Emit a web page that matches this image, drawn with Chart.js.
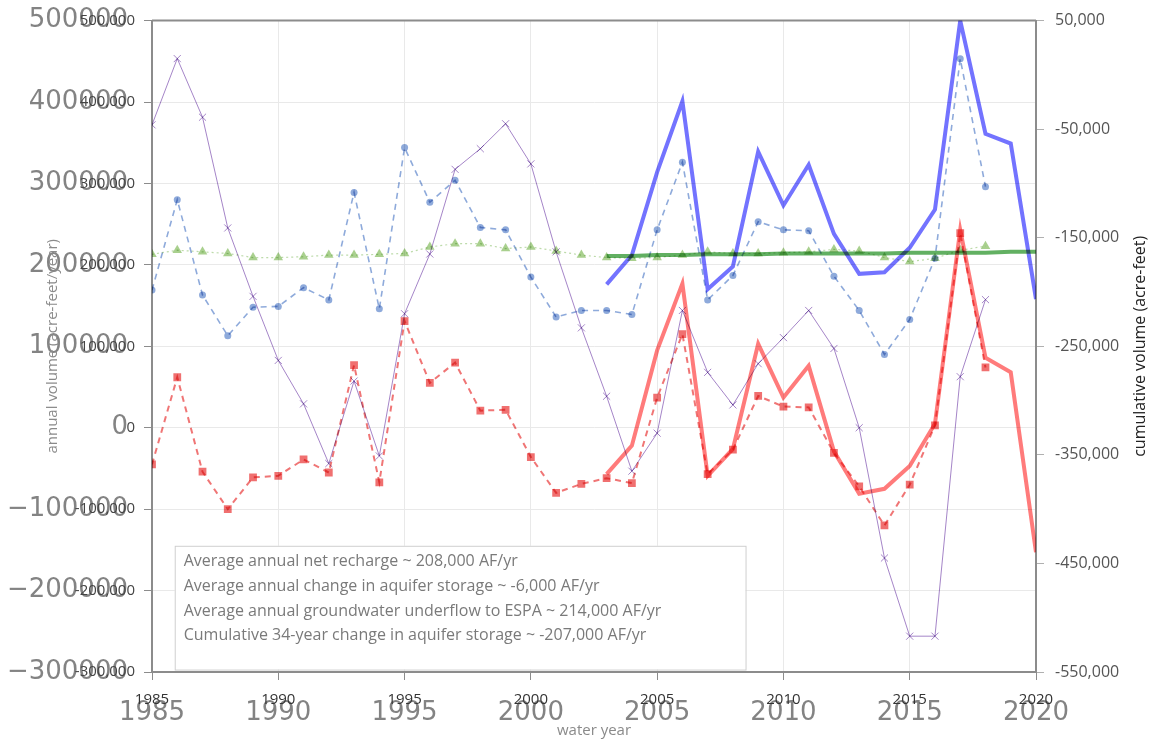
<!DOCTYPE html>
<html>
<head>
<meta charset="utf-8">
<script src="https://cdn.jsdelivr.net/npm/chart.js@4.4.1/dist/chart.umd.min.js"></script>
<style>
  html, body { margin: 0; padding: 0; background: #fff; }
</style>
</head>
<body>
<canvas id="chart" width="1151" height="741"></canvas>
<script>
// water years with annual budget values
const annualYears = [1985, 1986, 1987, 1988, 1989, 1990, 1991, 1992, 1993, 1994,
    1995, 1996, 1997, 1998, 1999, 2000, 2001, 2002, 2003, 2004,
    2005, 2006, 2007, 2008, 2009, 2010, 2011, 2012, 2013, 2014,
    2015, 2016, 2017, 2018];
const netRecharge = [169000, 280000, 163000, 113000, 148000, 149000, 172000, 157000, 289000, 146000,
    344000, 277000, 304000, 246000, 243000, 185000, 136000, 144000, 144000, 139000,
    243000, 326000, 157000, 187000, 253000, 243000, 242000, 186000, 144000, 90000,
    133000, 208000, 453000, 296000];
const underflow = [213000, 218000, 216000, 214000, 209000, 209000, 210000, 212000, 212000, 213000,
    214000, 222000, 226000, 226000, 220000, 222000, 217000, 212000, 209000, 208000,
    209000, 212000, 216000, 214000, 214000, 215000, 216000, 219000, 217000, 209000,
    204000, 208000, 218000, 223000];
const storageChange = [-45000, 62000, -54000, -100000, -61000, -59000, -39000, -55000, 77000, -67000,
    131000, 55000, 80000, 21000, 22000, -36000, -80000, -69000, -62000, -68000,
    37000, 115000, -57000, -27000, 39000, 26000, 25000, -31000, -72000, -120000,
    -70000, 3000, 239000, 74000];
// cumulative storage change, read against the right axis
const cumulativeStorage = [-46000, 15000, -39000, -141000, -204000, -263000, -303000, -358000, -282000, -351000,
    -220000, -165000, -87000, -68000, -45000, -82000, -163000, -233000, -296000, -365000,
    -330000, -217000, -274000, -304000, -266000, -242000, -217000, -252000, -325000, -445000,
    -517000, -517000, -278000, -207000];

// later period series (heavy lines)
const modelYears = [2003, 2004, 2005, 2006, 2007, 2008, 2009, 2010, 2011, 2012,
    2013, 2014, 2015, 2016, 2017, 2018, 2019, 2020];
const modelRecharge = [176000, 212000, 314000, 401000, 170000, 198000, 339000, 273000, 323000, 238000,
    189000, 191000, 221000, 268000, 500000, 361000, 349000, 158000];
const modelStorage = [-57000, -22000, 95000, 177000, -59000, -26000, 103000, 37000, 76000, -29000,
    -81000, -75000, -47000, 5000, 243000, 86000, 68000, -153000];
const modelUnderflow = [211000, 211000, 212000, 212000, 213000, 213000, 213000, 214000, 214000, 214000,
    214000, 214000, 215000, 215000, 215000, 215000, 216000, 216000];

const xTicks = [1985, 1990, 1995, 2000, 2005, 2010, 2015, 2020];
const leftTicks = [-300000, -200000, -100000, 0, 100000, 200000, 300000, 400000, 500000];
const rightTicks = [-550000, -450000, -350000, -250000, -150000, -50000, 50000];

const summaryLines = [
    'Average annual net recharge ~ 208,000 AF/yr',
    'Average annual change in aquifer storage ~ -6,000 AF/yr',
    'Average annual groundwater underflow to ESPA ~ 214,000 AF/yr',
    'Cumulative 34-year change in aquifer storage ~ -207,000 AF/yr'
];

function pts(xs, ys) {
    return xs.map((x, i) => ({ x: x, y: ys[i] }));
}
function fmt(v) {
    return Number(v).toLocaleString('en-US');
}

Chart.defaults.font.family = '"Open Sans", "Liberation Sans", sans-serif';

const GRID = '#e9e9e9';
const AXIS = '#8c8c8c';

// white page, then the large gray tick numbers underneath the axis labels
const backdrop = {
    id: 'backdrop',
    beforeDraw(chart) {
        const ctx = chart.ctx;
        const xs = chart.scales.x, ys = chart.scales.y;
        ctx.save();
        ctx.fillStyle = '#fff';
        ctx.fillRect(0, 0, chart.width, chart.height);
        ctx.font = '26px "DejaVu Sans"';
        ctx.fillStyle = 'rgba(118,118,118,0.9)';
        ctx.textBaseline = 'middle';
        ctx.textAlign = 'right';
        leftTicks.forEach(v => {
            ctx.fillText(String(v).replace('-', '\u2212'), ys.right - 24, ys.getPixelForValue(v));
        });
        ctx.textAlign = 'center';
        xTicks.forEach(v => {
            ctx.fillText(String(v), xs.getPixelForValue(v), xs.top + 41);
        });
        ctx.restore();
    }
};

// frame top, summary box, and multiply blending for the series
const overlay = {
    id: 'overlay',
    beforeDatasetsDraw(chart) {
        const ctx = chart.ctx;
        const a = chart.chartArea;
        const xs = chart.scales.x, ys = chart.scales.y;
        ctx.save();
        ctx.strokeStyle = AXIS;
        ctx.lineWidth = 2;
        ctx.beginPath();
        ctx.moveTo(a.left, a.top);
        ctx.lineTo(a.right, a.top);
        ctx.stroke();

        const bx = xs.getPixelForValue(1985.9);
        const bx2 = xs.getPixelForValue(2008.5);
        const by = ys.getPixelForValue(-145000);
        const by2 = ys.getPixelForValue(-297000);
        ctx.fillStyle = '#fff';
        ctx.fillRect(bx, by, bx2 - bx, by2 - by);
        ctx.strokeStyle = '#cfcfcf';
        ctx.lineWidth = 1;
        ctx.strokeRect(bx + 0.5, by + 0.5, bx2 - bx, by2 - by);
        ctx.fillStyle = '#7a7a7a';
        ctx.font = '16px "Open Sans"';
        ctx.textAlign = 'left';
        ctx.textBaseline = 'middle';
        summaryLines.forEach((t, i) => ctx.fillText(t, bx + 9, by + 16 + i * 24.7));
        ctx.restore();

        ctx.save();
        ctx.globalCompositeOperation = 'multiply';
    },
    afterDatasetsDraw(chart) {
        chart.ctx.restore();
    },
    afterDraw(chart) {
        const ctx = chart.ctx;
        const a = chart.chartArea;
        ctx.save();
        ctx.translate(chart.width - 11, (a.top + a.bottom) / 2);
        ctx.rotate(-Math.PI / 2);
        ctx.font = '16px "Open Sans"';
        ctx.fillStyle = '#222';
        ctx.textAlign = 'center';
        ctx.textBaseline = 'middle';
        ctx.fillText('cumulative volume (acre-feet)', 0, 0);
        ctx.restore();
    }
};

const data = {
    datasets: [
        {
            label: 'Cumulative change in aquifer storage',
            data: pts(annualYears, cumulativeStorage),
            yAxisID: 'yRight',
            borderColor: '#a585c8',
            borderWidth: 1,
            pointStyle: 'crossRot',
            pointRadius: 5,
            pointBorderWidth: 1,
            pointBorderColor: '#a585c8'
        },
        {
            label: 'Net recharge',
            data: pts(annualYears, netRecharge),
            borderColor: '#8eaadb',
            borderWidth: 1.6,
            borderDash: [6, 5],
            pointStyle: 'circle',
            pointRadius: 3.5,
            pointBorderWidth: 0,
            pointBackgroundColor: '#8eaadb'
        },
        {
            label: 'Underflow to ESPA',
            data: pts(annualYears, underflow),
            borderColor: '#bddbaa',
            borderWidth: 1.2,
            borderDash: [2, 3],
            pointStyle: 'triangle',
            pointRadius: 5.5,
            pointBorderWidth: 0,
            pointBackgroundColor: '#a9d08e'
        },
        {
            label: 'Change in aquifer storage',
            data: pts(annualYears, storageChange),
            borderColor: '#f07575',
            borderWidth: 2,
            borderDash: [6, 5],
            pointStyle: 'rect',
            pointRadius: 5.5,
            pointBorderWidth: 0,
            pointBackgroundColor: '#f07070'
        },
        {
            label: 'Recharge 2003-2020',
            data: pts(modelYears, modelRecharge),
            borderColor: '#7373ff',
            borderWidth: 4,
            pointRadius: 0
        },
        {
            label: 'Storage change 2003-2020',
            data: pts(modelYears, modelStorage),
            borderColor: '#ff7b7b',
            borderWidth: 4,
            pointRadius: 0
        },
        {
            label: 'Underflow 2003-2020',
            data: pts(modelYears, modelUnderflow),
            borderColor: '#62b062',
            borderWidth: 4,
            pointRadius: 0
        }
    ]
};

new Chart(document.getElementById('chart'), {
    type: 'line',
    data: data,
    plugins: [backdrop, overlay],
    options: {
        responsive: false,
        animation: false,
        devicePixelRatio: 1,
        layout: { padding: { top: 17, left: 0, right: 0, bottom: 0 } },
        elements: { line: { tension: 0, fill: false } },
        plugins: {
            legend: { display: false },
            tooltip: { enabled: false }
        },
        scales: {
            x: {
                type: 'linear',
                min: 1985,
                max: 2020,
                afterBuildTicks: s => { s.ticks = xTicks.map(v => ({ value: v })); },
                afterFit: s => { s.height = 69; },
                ticks: {
                    callback: v => String(v),
                    font: { size: 15 },
                    color: '#333',
                    padding: 11,
                    maxRotation: 0
                },
                grid: { color: GRID, tickColor: AXIS, tickLength: 8 },
                border: { color: AXIS, width: 2 },
                title: {
                    display: true,
                    text: 'water year',
                    color: '#8a8a8a',
                    font: { size: 15 },
                    padding: { top: 0, bottom: 1 }
                }
            },
            y: {
                position: 'left',
                min: -300000,
                max: 500000,
                afterBuildTicks: s => { s.ticks = leftTicks.map(v => ({ value: v })); },
                afterFit: s => { s.width = 152; },
                ticks: {
                    callback: v => fmt(v),
                    font: { size: 15 },
                    color: '#444',
                    padding: 9
                },
                grid: { color: GRID, tickColor: AXIS, tickLength: 8 },
                border: { color: AXIS, width: 2 },
                title: {
                    display: true,
                    text: 'annual volume (acre-feet/year)',
                    color: '#8a8a8a',
                    font: { size: 15 },
                    padding: { top: 44, bottom: 0 }
                }
            },
            yRight: {
                position: 'right',
                min: -550000,
                max: 50000,
                afterBuildTicks: s => { s.ticks = rightTicks.map(v => ({ value: v })); },
                afterFit: s => { s.width = 115; },
                ticks: {
                    callback: v => fmt(v),
                    font: { size: 16 },
                    color: '#555',
                    padding: 11
                },
                grid: { drawOnChartArea: false, tickColor: '#b0b0b0', tickLength: 8 },
                border: { color: AXIS, width: 2 }
            }
        }
    }
});
</script>
</body>
</html>
